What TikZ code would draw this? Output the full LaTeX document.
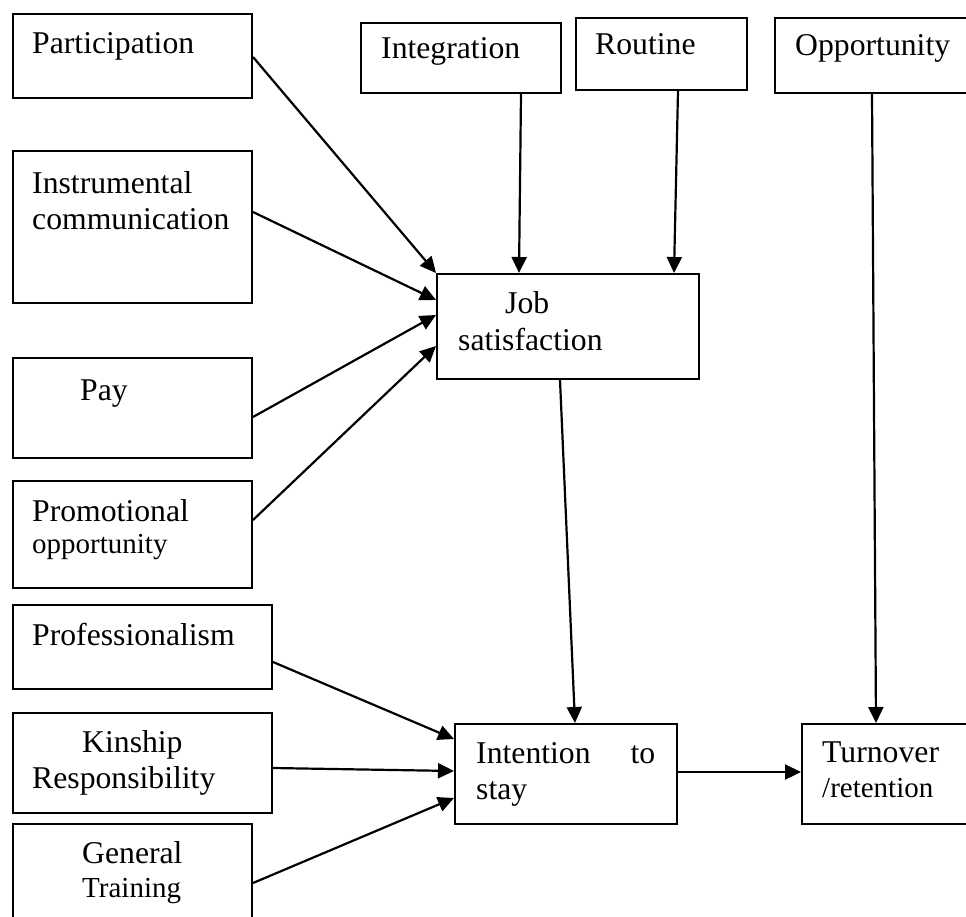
\documentclass[tikz,border=0pt]{standalone}
\usepackage{fontspec}
\setmainfont{Liberation Serif}
\usetikzlibrary{arrows.meta}
\newcommand\boxtxt[2]{\parbox[t]{400pt}{\raggedright\fontsize{31.7}{#1}\selectfont #2}}
\newcommand\smtxt{\fontsize{29}{\the\baselineskip}\selectfont}
\tikzset{
  bx/.style={draw, line width=2pt, inner sep=0pt, anchor=north west},
  lbl/.style={inner sep=0pt, anchor=base west},
  arr/.style={line width=2.2pt, -{Triangle[length=16pt,width=15pt]}}
}
\begin{document}
\begin{tikzpicture}[x=1pt,y=1pt]
\useasboundingbox (0,0) rectangle (966,-916);
\clip (0,0) rectangle (966,-916);
% boxes
\node[bx, minimum width=239pt, minimum height=84pt] (part) at (12,-13) {};
\node[bx, minimum width=239pt, minimum height=152pt] (instr) at (12,-150) {};
\node[bx, minimum width=239pt, minimum height=100pt] (pay) at (12,-357) {};
\node[bx, minimum width=239pt, minimum height=107pt] (promo) at (12,-480) {};
\node[bx, minimum width=259pt, minimum height=84pt] (prof) at (12,-604) {};
\node[bx, minimum width=259pt, minimum height=100pt] (kin) at (12,-712) {};
\node[bx, minimum width=239pt, minimum height=110pt] (gen) at (12,-823) {};
\node[bx, minimum width=200pt, minimum height=70pt] (integ) at (360,-22) {};
\node[bx, minimum width=171pt, minimum height=72pt] (rout) at (575,-17) {};
\node[bx, minimum width=220pt, minimum height=75pt] (opp) at (774,-17) {};
\node[bx, minimum width=262pt, minimum height=105pt] (job) at (436,-273) {};
\node[bx, minimum width=222pt, minimum height=100pt] (inten) at (454,-723) {};
\node[bx, minimum width=200pt, minimum height=100pt] (turn) at (801,-723) {};
% texts
\node[lbl] (tpart) at (32,-53) {\boxtxt{36}{Participation}};
\node[lbl] (tinstr) at (32,-193) {\boxtxt{36}{Instrumental\\communication}};
\node[lbl] (tpay) at (80,-400) {\boxtxt{36}{Pay}};
\node[lbl] (tpromo) at (32,-521) {\boxtxt{32}{Promotional\\\smtxt opportunity}};
\node[lbl] (tprof) at (32,-645) {\boxtxt{36}{Professionalism}};
\node[lbl] (tkin) at (32,-752) {\boxtxt{36.5}{\hspace*{50pt}Kinship\\Responsibility}};
\node[lbl] (tgen) at (82,-863) {\boxtxt{34}{General\\\smtxt Training}};
\node[lbl] (tinteg) at (381,-58) {\boxtxt{36}{Integration}};
\node[lbl] (trout) at (595,-54) {\boxtxt{36}{Routine}};
\node[lbl] (topp) at (795,-55) {\boxtxt{36}{Opportunity}};
\node[lbl] (tjob) at (458,-313) {\boxtxt{37}{\hspace*{47pt}Job\\satisfaction}};
\node[lbl] (tinten) at (476,-763) {\boxtxt{36}{\makebox[179pt][l]{Intention\hfill to}\\stay}};
\node[lbl] (tturn) at (822,-762) {\boxtxt{35}{Turnover\\\smtxt /retention}};
% connectors
\draw[arr] ([yshift=-44pt]part.north east) -- (job.north west);
\draw[arr] ([yshift=-62pt]instr.north east) -- ([yshift=-27pt]job.north west);
\draw[arr] ([yshift=-60pt]pay.north east) -- ([yshift=-42pt]job.north west);
\draw[arr] ([yshift=-40pt]promo.north east) -- ([yshift=-73pt]job.north west);
\draw[arr] ([xshift=-41pt]integ.south east) -- ([xshift=83pt]job.north west);
\draw[arr] ([xshift=-70pt]rout.south east) -- ([xshift=-26pt]job.north east);
\draw[arr] ([xshift=98pt]opp.south west) -- ([xshift=75pt]turn.north west);
\draw[arr] ([xshift=124pt]job.south west) -- ([xshift=121pt]inten.north west);
\draw[arr] ([yshift=-58pt]prof.north east) -- ([yshift=-16pt]inten.north west);
\draw[arr] ([yshift=-56pt]kin.north east) -- ([yshift=-48pt]inten.north west);
\draw[arr] ([yshift=-60pt]gen.north east) -- ([yshift=-75pt]inten.north west);
\draw[arr] ([yshift=-49pt]inten.north east) -- ([yshift=-49pt]turn.north west);
\end{tikzpicture}
\end{document}
